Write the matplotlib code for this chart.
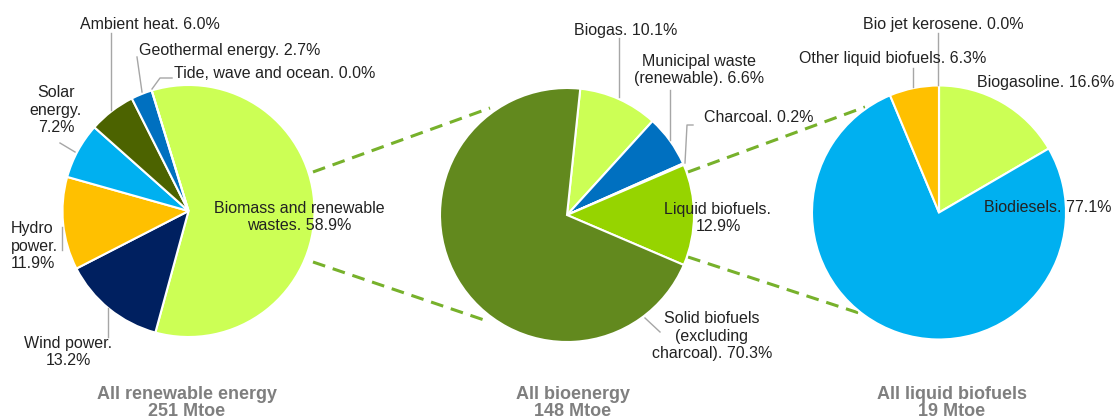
import matplotlib.pyplot as plt

plt.rcParams['font.family'] = ['Liberation Sans', 'DejaVu Sans']

W, H = 1114, 419

# all renewable energy (251 Mtoe)
renew_names = ['Biomass and renewable\nwastes. ', 'Wind power.\n', 'Hydro\npower.\n',
               'Solar\nenergy.\n', 'Ambient heat. ', 'Geothermal energy. ',
               'Tide, wave and ocean. ']
renew_values = [58.9, 13.2, 11.9, 7.2, 6.0, 2.7, 0.0]
renew_colors = ['#CCFF55', '#002060', '#FFC000', '#00B0F0', '#4C6300', '#0070C0', '#7F7F7F']

# all bioenergy (148 Mtoe)
bio_names = ['Biogas. ', 'Municipal waste\n(renewable). ', 'Charcoal. ',
             'Liquid biofuels.\n', 'Solid biofuels\n(excluding\ncharcoal). ']
bio_values = [10.1, 6.6, 0.2, 12.9, 70.3]
bio_colors = ['#CCFF55', '#0070C0', '#375623', '#96D400', '#62891E']

# all liquid biofuels (19 Mtoe)
liq_names = ['Biogasoline. ', 'Biodiesels. ', 'Other liquid biofuels. ', 'Bio jet kerosene. ']
liq_values = [16.6, 77.1, 6.3, 0.0]
liq_colors = ['#CCFF55', '#00B0F0', '#FFC000', '#7F7F7F']

titles = ['All renewable energy\n251 Mtoe', 'All bioenergy\n148 Mtoe', 'All liquid biofuels\n19 Mtoe']

fig = plt.figure(figsize=(W / 100, H / 100), dpi=100)
ax = fig.add_axes([0, 0, 1, 1])


def Y(y):
    # pixel row from the top -> data y
    return H - y


txt = dict(fontsize=11.5, color='#222222')
lead = dict(color='#A6A6A6', lw=1, zorder=1)
wp = dict(edgecolor='white', linewidth=1.5)

# dashed connectors (behind the pies)
dash = dict(color='#77B12B', lw=2.2, ls=(0, (4.2, 2.6)), zorder=0)
ax.plot([313, 490], [Y(172), Y(108)], **dash)
ax.plot([313, 490], [Y(262), Y(322)], **dash)
ax.plot([688, 865], [Y(172), Y(107)], **dash)
ax.plot([688, 865], [Y(257), Y(315)], **dash)

# pie 1
ax.pie(renew_values, colors=renew_colors, startangle=107, counterclock=False,
       center=(188.5, Y(211)), radius=126, wedgeprops=wp, frame=True)
lab = [n + f'{v:.1f}%' for n, v in zip(renew_names, renew_values)]
ax.text(299, Y(217), lab[0], ha='center', va='center', **txt)
ax.text(68, Y(352), lab[1], ha='center', va='center', **txt)
ax.text(11, Y(246), lab[2], ha='left', va='center', **txt)
ax.text(56, Y(110), lab[3], ha='center', va='center', **txt)
ax.text(150, Y(25), lab[4], ha='center', va='center', **txt)
ax.text(230, Y(50), lab[5], ha='center', va='center', **txt)
ax.text(275, Y(74), lab[6], ha='center', va='center', **txt)
ax.plot([111, 111], [Y(33), Y(110)], **lead)
ax.plot([137, 142], [Y(57), Y(92)], **lead)
ax.plot([172, 160, 152], [Y(78), Y(78), Y(89)], **lead)
ax.plot([60, 75], [Y(143), Y(152)], **lead)
ax.plot([62, 62], [Y(227), Y(250)], **lead)
ax.plot([108, 108], [Y(308), Y(337)], **lead)

# pie 2
ax.pie(bio_values, colors=bio_colors, startangle=84, counterclock=False,
       center=(567, Y(215)), radius=127, wedgeprops=wp, frame=True)
lab = [n + f'{v:.1f}%' for n, v in zip(bio_names, bio_values)]
ax.text(626, Y(31), lab[0], ha='center', va='center', **txt)
ax.text(699, Y(70), lab[1], ha='center', va='center', **txt)
ax.text(704, Y(117), lab[2], ha='left', va='center', **txt)
ax.text(718, Y(218), lab[3], ha='center', va='center', **txt)
ax.text(712, Y(336), lab[4], ha='center', va='center', **txt)
ax.plot([619, 619], [Y(38), Y(97)], **lead)
ax.plot([670, 670], [Y(90), Y(140)], **lead)
ax.plot([693, 687, 685], [Y(125), Y(125), Y(163)], **lead)
ax.plot([645, 660], [Y(318), Y(332)], **lead)

# pie 3
ax.pie(liq_values, colors=liq_colors, startangle=90, counterclock=False,
       center=(939, Y(212.5)), radius=127, wedgeprops=wp, frame=True)
lab = [n + f'{v:.1f}%' for n, v in zip(liq_names, liq_values)]
ax.text(977, Y(82), lab[0], ha='left', va='center', **txt)
ax.text(984, Y(208), lab[1], ha='left', va='center', **txt)
ax.text(893, Y(58), lab[2], ha='center', va='center', **txt)
ax.text(943, Y(25), lab[3], ha='center', va='center', **txt)
ax.plot([913, 913], [Y(68), Y(87)], **lead)
ax.plot([938, 938], [Y(33), Y(85)], **lead)

# titles under the pies
for x, t in zip([187, 573, 952], titles):
    ax.text(x, Y(403), t, ha='center', va='center', fontsize=13, fontweight='bold',
            color='#7F7F7F', linespacing=1.05)

ax.set_xlim(0, W)
ax.set_ylim(0, H)
ax.set_aspect('equal')
ax.axis('off')

fig.savefig('out.png', dpi=100)
